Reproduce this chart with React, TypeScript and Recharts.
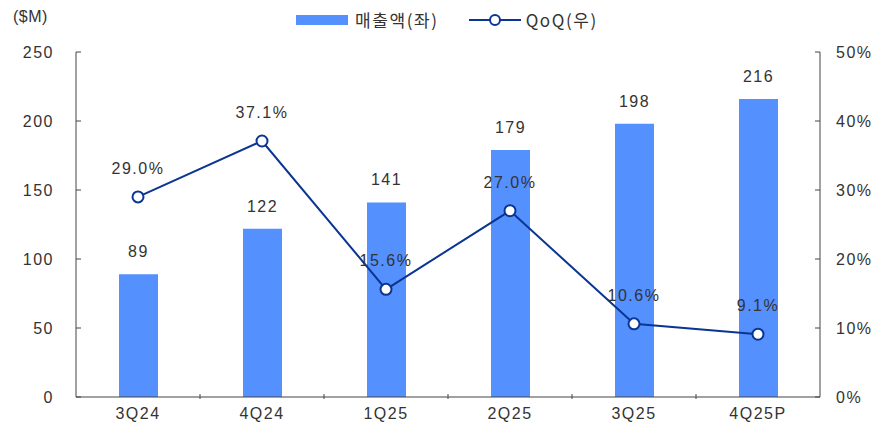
import React from "react";
import { ComposedChart, Bar, Line, XAxis, YAxis, LabelList } from "recharts";

const categories = ["3Q24", "4Q24", "1Q25", "2Q25", "3Q25", "4Q25P"];
const revenue = [89, 122, 141, 179, 198, 216];
const qoq = [29.0, 37.1, 15.6, 27.0, 10.6, 9.1];
const leftTicks = [0, 50, 100, 150, 200, 250];
const rightTicks = [0, 10, 20, 30, 40, 50];

const data = categories.map((c, i) => ({ name: c, revenue: revenue[i], qoq: qoq[i] }));

const BAR = "#5590FF";
const LINE = "#0A3593";
const AXIS = "#444";
const TXT = "#333";
const FONT = "'Liberation Sans', Arial, sans-serif";

const LeftTick = (props: any) => {
  const { x, y, payload } = props;
  return (
    <g>
      <line x1={x} y1={y} x2={x + 5} y2={y} stroke={AXIS} strokeWidth={1} />
      <text x={x - 22} y={y} dy={6} textAnchor="end" fontSize={16} fill={TXT} fontFamily={FONT} letterSpacing={1.5}>
        {payload.value}
      </text>
    </g>
  );
};

const RightTick = (props: any) => {
  const { x, y, payload } = props;
  return (
    <g>
      <line x1={x} y1={y} x2={x - 5} y2={y} stroke={AXIS} strokeWidth={1} />
      <text x={x + 16} y={y} dy={6} textAnchor="start" fontSize={16} fill={TXT} fontFamily={FONT} letterSpacing={1.5}>
        {payload.value}%
      </text>
    </g>
  );
};

const BottomTick = (props: any) => {
  const { x, y, payload, index, width } = props;
  const band = (width || 744) / categories.length;
  const isLast = index === categories.length - 1;
  return (
    <g>
      {!isLast && (
        <line x1={x + band / 2} y1={y} x2={x + band / 2} y2={y - 5} stroke={AXIS} strokeWidth={1} />
      )}
      <text x={x} y={y + 20} textAnchor="middle" fontSize={16} fill={TXT} fontFamily={FONT} letterSpacing={1.5}>
        {payload.value}
      </text>
    </g>
  );
};

export default function App() {
  return (
    <div style={{ position: "absolute", left: 0, top: 0, width: 882, height: 428, background: "#fff" }}>
      <div style={{ position: "absolute", left: 13, top: 8, fontSize: 16, color: TXT, fontFamily: FONT, letterSpacing: 0.5 }}>($M)</div>
      <div
        style={{
          position: "absolute",
          left: 296,
          top: 10,
          display: "flex",
          alignItems: "center",
          fontSize: 17,
          color: TXT,
          fontFamily: "'Noto Sans CJK KR', sans-serif",
          lineHeight: "20px",
          letterSpacing: 1.6,
        }}
      >
        <span style={{ display: "inline-block", width: 52, height: 10, background: BAR, marginRight: 7 }} />
        <span>매출액(좌)</span>
        <svg width={52} height={14} style={{ marginLeft: 30, marginRight: 5 }}>
          <line x1={0} y1={7} x2={52} y2={7} stroke={LINE} strokeWidth={2} />
          <circle cx={26} cy={7} r={5} fill="#fff" stroke={LINE} strokeWidth={2} />
        </svg>
        <span>QoQ(우)</span>
      </div>
      <ComposedChart width={882} height={428} data={data} margin={{ top: 52, right: 0, bottom: 0, left: 0 }}>
        <XAxis
          dataKey="name"
          height={31}
          stroke={AXIS}
          tickLine={false}
          tickSize={0}
          tick={<BottomTick />}
          interval={0}
        />
        <YAxis
          yAxisId="left"
          orientation="left"
          width={76}
          domain={[0, 250]}
          ticks={leftTicks}
          stroke={AXIS}
          tickLine={false}
          tickSize={0}
          tickMargin={0}
          tick={<LeftTick />}
          interval={0}
        />
        <YAxis
          yAxisId="right"
          orientation="right"
          width={62}
          domain={[0, 50]}
          ticks={rightTicks}
          stroke={AXIS}
          tickLine={false}
          tickSize={0}
          tickMargin={0}
          tick={<RightTick />}
          interval={0}
        />
        <Bar yAxisId="left" dataKey="revenue" fill={BAR} barSize={39} isAnimationActive={false}>
          <LabelList
            dataKey="revenue"
            position="top"
            offset={17}
            fill={TXT}
            fontSize={16}
            fontFamily={FONT}
            style={{ letterSpacing: 1.5 }}
          />
        </Bar>
        <Line
          yAxisId="right"
          dataKey="qoq"
          stroke={LINE}
          strokeWidth={2}
          dot={{ r: 5.5, fill: "#fff", stroke: LINE, strokeWidth: 2 }}
          activeDot={false}
          isAnimationActive={false}
        >
          <LabelList
            dataKey="qoq"
            position="top"
            offset={23}
            fill={TXT}
            fontSize={16}
            fontFamily={FONT}
            style={{ letterSpacing: 1.5 }}
            formatter={(v: any) => `${Number(v).toFixed(1)}%`}
          />
        </Line>
      </ComposedChart>
    </div>
  );
}
